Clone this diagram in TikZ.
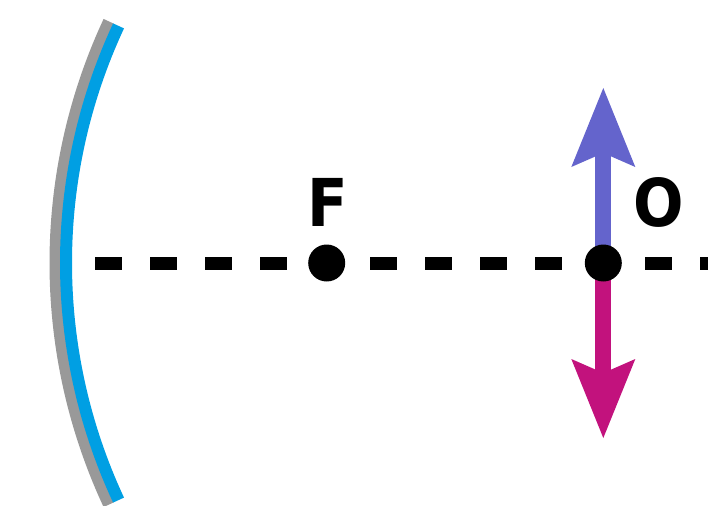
\documentclass[tikz,border=0pt]{standalone}
\usepackage{fontspec}
\setmainfont{DejaVu Sans Condensed}
\usepackage{tikz}
\usetikzlibrary{arrows.meta}
\definecolor{mirrorblue}{HTML}{009FE3}
\definecolor{mirrorgray}{HTML}{999999}
\definecolor{upviolet}{HTML}{6464CC}
\definecolor{downmagenta}{HTML}{C2127D}
\tikzset{
  dot/.style={circle, fill=black, inner sep=0pt, minimum size=37pt},
  lbl/.style={font=\fontsize{66}{66}\selectfont\bfseries, inner sep=0pt, anchor=base},
  vec/.style={line width=16pt, -{Stealth[length=79pt, width=64pt, inset=14pt, line width=0pt]}}
}
\begin{document}
\begin{tikzpicture}[x=1pt, y=-1pt]
\useasboundingbox (0,0) rectangle (708,505);
% mirror
\draw [mirrorgray, line width=11pt] (627,263) ++(155:572) arc[start angle=155, end angle=205, radius=572];
\draw [mirrorblue, line width=12pt] (627,263) ++(155:561) arc[start angle=155, end angle=205, radius=561];
% axis
\coordinate (axisL) at (95,263);
\coordinate (axisR) at (730,263);
\draw [line width=13pt, dash pattern=on 27pt off 28pt] (axisL) -- (axisR);
% object
\coordinate (o) at (603.3,263);
\coordinate (Otop) at (603.3,88);
\coordinate (Obot) at (603.3,438);
\draw [vec, upviolet] (o) -- (Otop);
\draw [vec, downmagenta] (o) -- (Obot);
\node[dot] (F) at (326.7,263) {};
\node[dot] (O) at (o) {};
\node[lbl] (Flabel) at (327.5,226.7) {F};
\node[lbl] (Olabel) at (659.2,226) {O};
\end{tikzpicture}
\end{document}
